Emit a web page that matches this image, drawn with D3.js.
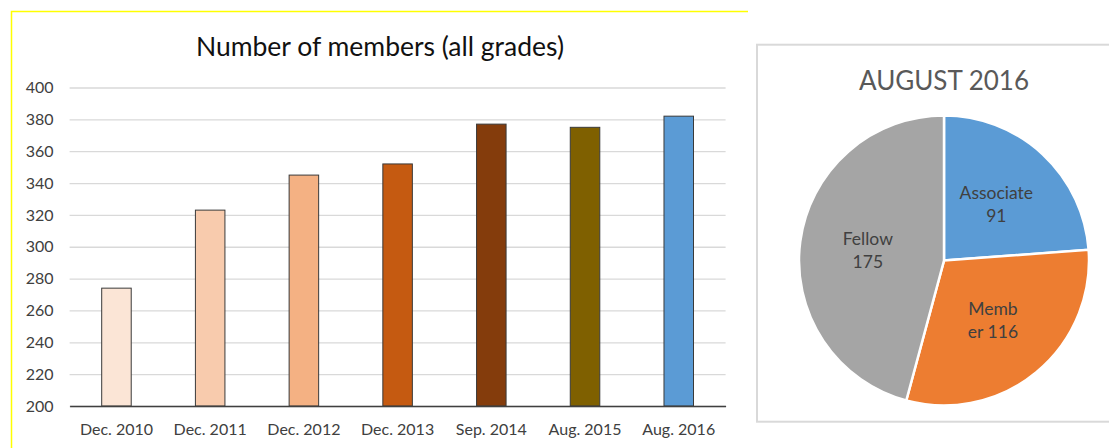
<!DOCTYPE html>
<html lang="en">
    <head>
        <meta charset="utf-8">
        <title>Number of members</title>
        <script type="text/javascript" src="https://cdn.jsdelivr.net/npm/d3@7"></script>
        <style>
        body {
            margin: 0;
            background: #fff;
        }
        .axis text {
            font-family: Lato, sans-serif;
        }
        </style>
    </head>
    <body>
        <script type="text/javascript">

            var w = 1109; // svg width
            var h = 448;  // svg height

            // bar chart data
            var periods = ["Dec. 2010", "Dec. 2011", "Dec. 2012", "Dec. 2013", "Sep. 2014", "Aug. 2015", "Aug. 2016"];
            var members = [274, 323, 345, 352, 377, 375, 382];
            var barColors = ["#fbe5d6", "#f8cbad", "#f4b183", "#c55a11", "#843c0c", "#7f6000", "#5b9bd5"];
            var yTicks = [200, 220, 240, 260, 280, 300, 320, 340, 360, 380, 400];

            // pie data (August 2016)
            var grades = ["Associate", "Member", "Fellow"];
            var gradeCounts = [91, 116, 175];
            var gradeColors = ["#5b9bd5", "#ed7d31", "#a5a5a5"];
            // label lines as they wrap in the original
            var gradeLabels = [["Associate", "91"], ["Memb", "er 116"], ["Fellow", "175"]];

            var svg = d3.select("body").append("svg")
                .attr("width", w)
                .attr("height", h);

            /////////////////////////////////////////////////
            // Left panel: bar chart
            /////////////////////////////////////////////////

            // yellow frame (top + left only)
            svg.append("path")
                .attr("d", "M11.5,448 L11.5,11.5 L748,11.5")
                .attr("fill", "none")
                .attr("stroke", "#ffff00")
                .attr("stroke-width", 1.5);

            svg.append("text")
                .attr("x", 380)
                .attr("y", 56)
                .attr("text-anchor", "middle")
                .attr("font-family", "Lato, sans-serif")
                .attr("font-size", 26.5)
                .attr("fill", "#111")
                .text("Number of members (all grades)");

            var x = d3.scaleBand()
                .domain(periods)
                .range([69.6, 725.6])
                .paddingInner(0.685)
                .paddingOuter(0.3425);

            var y = d3.scaleLinear()
                .domain([200, 400])
                .range([406, 87.5]);

            var yAxis = svg.append("g")
                .attr("class", "axis")
                .attr("transform", "translate(69.6,0)")
                .call(d3.axisLeft(y)
                    .tickValues(yTicks)
                    .tickSize(-656)
                    .tickPadding(16));
            yAxis.select(".domain").remove();
            yAxis.selectAll("line")
                .attr("stroke", "#d9d9d9")
                .attr("stroke-width", 1.3);
            yAxis.selectAll("text")
                .attr("font-size", 16)
                .attr("fill", "#404040");

            svg.selectAll("rect.bar")
                .data(members)
                .enter()
                .append("rect")
                .attr("class", "bar")
                .attr("x", function(d, i) { return x(periods[i]); })
                .attr("y", function(d) { return y(d); })
                .attr("width", x.bandwidth())
                .attr("height", function(d) { return y(200) - y(d); })
                .attr("fill", function(d, i) { return barColors[i]; })
                .attr("stroke", "#3a3a3a")
                .attr("stroke-width", 1);

            var xAxis = svg.append("g")
                .attr("class", "axis")
                .attr("transform", "translate(0,406)")
                .call(d3.axisBottom(x).tickSize(0).tickPadding(18));
            xAxis.select(".domain")
                .attr("stroke", "#404040")
                .attr("stroke-width", 1.3);
            xAxis.selectAll("text")
                .attr("font-size", 16)
                .attr("fill", "#404040");

            /////////////////////////////////////////////////
            // Right panel: pie chart
            /////////////////////////////////////////////////

            svg.append("rect")
                .attr("x", 757)
                .attr("y", 44.7)
                .attr("width", 400)
                .attr("height", 377)
                .attr("fill", "#fff")
                .attr("stroke", "#d9d9d9")
                .attr("stroke-width", 2);

            svg.append("text")
                .attr("x", 944)
                .attr("y", 90)
                .attr("text-anchor", "middle")
                .attr("font-family", "Lato, sans-serif")
                .attr("font-size", 26)
                .attr("fill", "#595959")
                .text("AUGUST 2016");

            var r = 145;
            var pie = d3.pie().sort(null);
            var arc = d3.arc().innerRadius(0).outerRadius(r);
            var labelArc = d3.arc().innerRadius(r * 0.53).outerRadius(r * 0.53);

            var pieG = svg.append("g")
                .attr("transform", "translate(944,260.5)");

            var slices = pieG.selectAll("g.slice")
                .data(pie(gradeCounts))
                .enter()
                .append("g")
                .attr("class", "slice");

            slices.append("path")
                .attr("d", arc)
                .attr("fill", function(d, i) { return gradeColors[i]; })
                .attr("stroke", "#fff")
                .attr("stroke-width", 2.5);

            var labels = slices.append("text")
                .attr("transform", function(d) { return "translate(" + labelArc.centroid(d) + ")"; })
                .attr("text-anchor", "middle")
                .attr("font-family", "Lato, sans-serif")
                .attr("font-size", 17.5)
                .attr("fill", "#404040");

            labels.selectAll("tspan")
                .data(function(d, i) { return gradeLabels[i]; })
                .enter()
                .append("tspan")
                .attr("x", 0)
                .attr("y", function(d, j) { return j === 0 ? -5 : 18; })
                .text(function(d) { return d; });

        </script>
    </body>
</html>
